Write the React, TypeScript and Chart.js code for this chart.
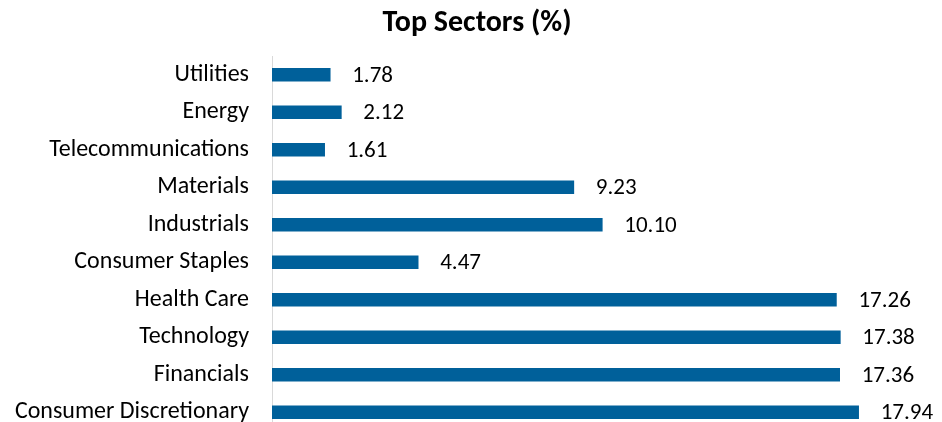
import React, { useEffect, useRef } from "react";
import { Chart, registerables } from "chart.js";

Chart.register(...registerables);

const categories = [
  "Utilities",
  "Energy",
  "Telecommunications",
  "Materials",
  "Industrials",
  "Consumer Staples",
  "Health Care",
  "Technology",
  "Financials",
  "Consumer Discretionary",
];
const values = [1.78, 2.12, 1.61, 9.23, 10.1, 4.47, 17.26, 17.38, 17.36, 17.94];
const valueLabels = ["1.78", "2.12", "1.61", "9.23", "10.10", "4.47", "17.26", "17.38", "17.36", "17.94"];
const titleText = "Top Sectors (%)";

const FONT = "Carlito, Lato, 'Open Sans', sans-serif";

const valueLabelPlugin = {
  id: "valueLabels",
  afterDatasetsDraw(chart: any) {
    const ctx = chart.ctx;
    const meta = chart.getDatasetMeta(0);
    ctx.save();
    ctx.font = `23px ${FONT}`;
    ctx.fillStyle = "#000000";
    ctx.textAlign = "left";
    ctx.textBaseline = "middle";
    meta.data.forEach((bar: any, i: number) => {
      ctx.fillText(valueLabels[i], bar.x + 22, bar.y + 1);
    });
    ctx.restore();
  },
};

const titlePlugin = {
  id: "customTitle",
  afterDraw(chart: any) {
    const ctx = chart.ctx;
    ctx.save();
    ctx.font = `bold 30px ${FONT}`;
    ctx.fillStyle = "#000000";
    ctx.textAlign = "center";
    ctx.textBaseline = "alphabetic";
    ctx.fillText(titleText, 477, 31);
    ctx.restore();
  },
};

export default function App() {
  const ref = useRef<HTMLCanvasElement | null>(null);
  useEffect(() => {
    document.body.style.margin = "0";
    const canvas = ref.current!;
    const chart = new Chart(canvas, {
      type: "bar",
      data: {
        labels: categories,
        datasets: [
          {
            data: values,
            backgroundColor: "#00609a",
            borderWidth: 0,
            barThickness: 13,
          },
        ],
      },
      options: {
        indexAxis: "y",
        responsive: true,
        maintainAspectRatio: false,
        animation: false,
        layout: { padding: { left: 0, right: 16, top: 56, bottom: 0 } },
        plugins: {
          legend: { display: false },
          tooltip: { enabled: false },
          title: { display: false },
        },
        scales: {
          x: {
            display: false,
            min: 0,
            max: 20,
          },
          y: {
            afterFit(scale: any) {
              scale.width = 272;
              scale.paddingTop = 0;
              scale.paddingBottom = 0;
            },
            grid: { display: false, drawTicks: false },
            border: { display: true, color: "#d9d9d9", width: 1 },
            ticks: {
              color: "#000000",
              padding: 23,
              font: { family: FONT, size: 24 },
            },
          },
        },
      },
      plugins: [valueLabelPlugin, titlePlugin],
    });
    return () => chart.destroy();
  }, []);
  return (
    <div style={{ width: 942, height: 422, overflow: "hidden", background: "#ffffff" }}>
      <div style={{ position: "relative", width: 942, height: 431 }}>
        <canvas ref={ref} />
      </div>
    </div>
  );
}
